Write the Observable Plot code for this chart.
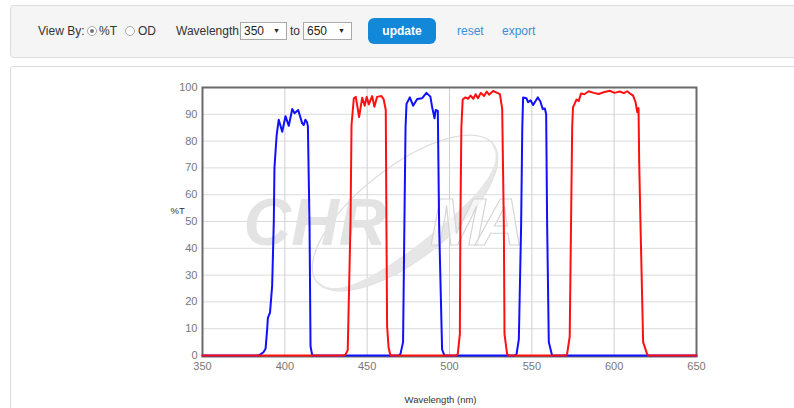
<!DOCTYPE html>
<html>
<head>
<meta charset="utf-8">
<script src="https://cdn.jsdelivr.net/npm/d3@7"></script>
<script src="https://cdn.jsdelivr.net/npm/@observablehq/plot@0.6"></script>
<style>
  body { margin:0; width:794px; height:408px; overflow:hidden; background:#fff; font-family:"Liberation Sans", Arial, sans-serif; color:#333; }
  .bar { position:absolute; left:10px; top:5px; width:800px; height:51px; background:#f5f5f5; border:1px solid #dcdcdc; border-radius:4px; }
  .panel { position:absolute; left:10px; top:66px; width:800px; height:360px; border:1px solid #dcdcdc; border-radius:3px; }
  .t { position:absolute; font-size:12px; color:#333; line-height:16px; }
  .radio { position:absolute; width:8px; height:8px; border:1px solid #a8a8a8; border-radius:50%; background:#fff; }
  .radio.on::after { content:""; position:absolute; left:2px; top:2px; width:4px; height:4px; border-radius:50%; background:#777; }
  .sel { position:absolute; height:18px; border:1px solid #a9a9a9; background:#fff; font-size:12px; line-height:16px; padding-left:3px; box-sizing:border-box; color:#222; }
  .sel span.arr { position:absolute; right:6px; top:0; font-size:7px; }
  .btn { position:absolute; left:368px; top:18px; width:68px; height:26px; background:#1488d8; border-radius:6px; color:#fff; font-weight:bold; font-size:12px; line-height:26px; text-align:center; }
  .lnk { position:absolute; font-size:12px; color:#3a8ed6; line-height:16px; }
  #chart { position:absolute; left:0; top:70px; }
</style>
</head>
<body>
<div class="bar"></div>
<div class="t" style="left:38px;top:23px;">View By:</div>
<div class="radio on" style="left:87px;top:26px;"></div>
<div class="t" style="left:99px;top:23px;">%T</div>
<div class="radio" style="left:125px;top:26px;"></div>
<div class="t" style="left:138px;top:23px;">OD</div>
<div class="t" style="left:176px;top:23px;">Wavelength</div>
<div class="sel" style="left:240px;top:22px;width:47px;">350<span class="arr">▼</span></div>
<div class="t" style="left:290px;top:23px;">to</div>
<div class="sel" style="left:303px;top:22px;width:49px;">650<span class="arr">▼</span></div>
<div class="btn">update</div>
<div class="lnk" style="left:457px;top:23px;">reset</div>
<div class="lnk" style="left:502px;top:23px;">export</div>
<div class="panel"></div>
<div id="chart"></div>
<script>
// ---- data ----
const xTicks = [350, 400, 450, 500, 550, 600, 650];
const yTicks = [0, 10, 20, 30, 40, 50, 60, 70, 80, 90, 100];

const blueNm = [350, 384, 385.2, 387, 388.3, 389.3, 389.7, 391, 392.3, 393.3, 393.7, 395, 396.3, 398.4, 400.4, 402.4, 404.5, 405.9, 408.1, 410.5, 411.5, 412.5, 413.5, 414, 415, 415.6, 416.5, 417.2,
  469, 470.2, 471.8, 472.6, 473.3, 473.9, 475.9, 477.9, 480.4, 483.4, 486, 488.4, 489.5, 490.9, 491.6, 492.9, 493.7, 495.5, 496.9,
  539.5, 540.7, 542.1, 543.5, 544.2, 544.7, 546.7, 547.7, 549.2, 550.8, 551.8, 553.6, 555.2, 556.6, 557.9, 558.7, 559.3, 560.3, 562.3, 650];
const blueT = [0, 0, 0.4, 1.2, 2.5, 10, 14, 16, 26, 50, 70, 82, 88, 83.5, 89.3, 85.7, 92, 90.4, 91.6, 86.7, 86, 88, 87, 85.5, 48.7, 3.5, 0.5, 0,
  0, 0.5, 5, 48.7, 85, 93.9, 96.3, 93.2, 95.7, 96, 98, 96.6, 92.5, 88.5, 91.6, 91.3, 48.7, 2.3, 0,
  0, 0.5, 6, 48.7, 85, 96.3, 96, 94.5, 95.2, 93.5, 94.5, 96.3, 94.8, 92, 92.2, 90, 48.7, 5, 0, 0];

const redNm = [350, 435.5, 436.8, 438.2, 439.9, 440.5, 441.9, 443.1, 445.1, 447, 448.5, 449.7, 451, 453, 454.4, 456, 458.7, 460, 461.3, 461.7, 462.1, 463, 464.1,
  504, 505, 506.3, 506.6, 507.2, 508, 509.7, 511.2, 512.8, 514.5, 515.9, 517.3, 519, 521, 522.6, 524, 526.5, 529, 530.6, 532, 533, 533.4, 535, 536,
  570.5, 571.4, 573, 573.8, 574.5, 575, 577.1, 578.5, 579.9, 581.9, 584.5, 587.6, 590.6, 593.6, 597.3, 600.2, 603.4, 605.9, 607.9, 610, 611.5, 613, 614, 614.8, 615.2, 616, 617.6, 620, 621, 650];
const redT = [0, 0, 0.3, 2, 50, 86, 96, 96.5, 89, 96.2, 93.2, 96.5, 93.7, 96.8, 92.8, 96.5, 96.8, 95.6, 91.6, 48.7, 11, 3, 0,
  0, 0.5, 8, 48.7, 85, 95.5, 96.3, 95.8, 97, 95.8, 97.5, 96, 98, 96.8, 98.5, 97.3, 98.7, 98, 97.5, 92, 48.7, 8, 0.5, 0,
  0, 0.5, 7, 48.7, 85, 92.6, 95.5, 95, 97.8, 97.5, 98.6, 98, 97.6, 98.2, 98.8, 98, 98.5, 97.9, 98.6, 97.6, 97, 94.5, 90.8, 92.3, 72, 48.7, 5, 0.5, 0, 0];

const blue = blueNm.map((nm, i) => ({nm, t: blueT[i]}));
const red = redNm.map((nm, i) => ({nm, t: redT[i]}));

const plot = Plot.plot({
  width: 794,
  height: 338,
  marginLeft: 202,
  marginRight: 98,
  marginTop: 17,
  marginBottom: 52,
  style: {fontFamily: "'Liberation Sans', Arial, sans-serif", fontSize: "11px", color: "#777", background: "transparent", overflow: "visible"},
  x: {domain: [350, 650]},
  y: {domain: [0, 100], insetBottom: 1},
  marks: [
    Plot.gridY(yTicks, {stroke: "#dadada", strokeOpacity: 1}),
    Plot.gridX(xTicks, {stroke: "#d0d0d0", strokeOpacity: 1}),
    Plot.frame({stroke: "#6a6a6a", strokeWidth: 2}),
    Plot.line(blue, {x: "nm", y: "t", stroke: "#1010ff", strokeWidth: 2}),
    Plot.line(red, {x: "nm", y: "t", stroke: "#ff1010", strokeWidth: 2}),
    Plot.axisX(xTicks, {tickSize: 0, tickPadding: 6, label: null, fontSize: 11}),
    Plot.axisY(yTicks, {tickSize: 0, tickPadding: 5, label: null, fontSize: 11}),
    Plot.text(["%T"], {frameAnchor: "left", dx: -32, dy: -11, text: d => d, fill: "#333", fontSize: 9.5}),
    Plot.text(["Wavelength (nm)"], {frameAnchor: "bottom", dy: 46, dx: -9, text: d => d, fill: "#333", fontSize: 9.5})
  ]
});

// decorative watermark (page coords shifted by the chart's 70px top offset)
const svg = d3.select(plot);
const wm = svg.insert("g", "[aria-label='frame']").attr("pointer-events", "none")
  .attr("transform", "translate(0,-70)");
const cx = 405, cy = 213, rx = 112, ry = 46, rot = -38;
const eg = wm.append("g").attr("transform", `translate(${cx},${cy}) rotate(${rot})`);
eg.append("ellipse").attr("rx", rx).attr("ry", ry).attr("fill", "none").attr("stroke", "#dedede").attr("stroke-width", 1.3);
// thick crescent on the lower side of the ring
const outer = d3.range(0, 181, 5).map(a => { const t = a * Math.PI / 180; return [rx * Math.cos(t), ry * Math.sin(t)]; });
const inner = d3.range(180, -1, -5).map(a => { const t = a * Math.PI / 180; const k = 1 - 0.28 * Math.sin(t); return [rx * 0.985 * Math.cos(t), ry * k * Math.sin(t)]; });
eg.append("path").attr("d", "M" + outer.concat(inner).map(p => p.join(",")).join("L") + "Z").attr("fill", "#e6e6e6");
wm.append("text").attr("x", 315).attr("y", 245).text("CHR")
  .attr("font-size", 66).attr("font-weight", "bold").attr("font-style", "italic")
  .attr("font-family", "'Liberation Sans', Arial, sans-serif").attr("fill", "#e3e3e3");
wm.append("text").attr("x", 477).attr("y", 245).text("MA")
  .attr("font-size", 66).attr("font-weight", "bold").attr("font-style", "italic")
  .attr("font-family", "'Liberation Sans', Arial, sans-serif").attr("fill", "#fff").attr("fill-opacity", 0.6)
  .attr("stroke", "#d6d6d6").attr("stroke-width", 1.2).attr("textLength", 94);

document.getElementById("chart").appendChild(plot);
</script>
</body>
</html>
